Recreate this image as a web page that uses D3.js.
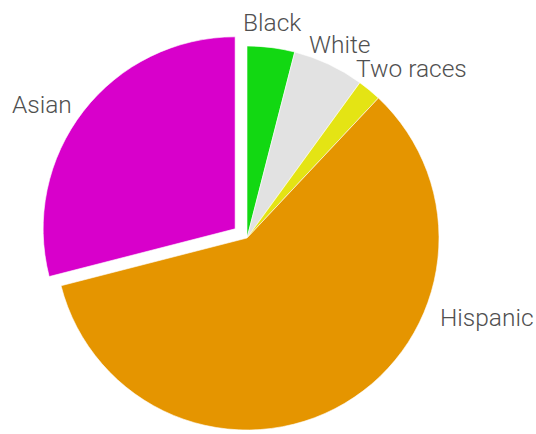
<!DOCTYPE html>
<html>
<head>
<meta charset="utf-8">
<script src="https://cdn.jsdelivr.net/npm/d3@7"></script>
<style>
  html, body { margin: 0; padding: 0; background: #fff; }
  svg { display: block; }
  text { font-family: Roboto, "Liberation Sans", Arial, sans-serif; font-weight: 300; fill: #505050; }
</style>
</head>
<body>
<svg id="chart" width="536" height="434"></svg>
<script>
const categories = ["Black", "White", "Two races", "Hispanic", "Asian"];
const values = [4, 6, 2, 59, 29];
const colors = ["#12d812", "#e2e2e2", "#e4e414", "#e59500", "#d800cb"];
const exploded = ["Asian"];

const cx = 247, cy = 238, R = 192, explodeDist = 15;

const svg = d3.select("#chart");
const data = categories.map((c, i) => ({ name: c, value: values[i] }));

const pie = d3.pie().sort(null).value(d => d.value);
const arc = d3.arc().innerRadius(0).outerRadius(R);
const color = d3.scaleOrdinal().domain(categories).range(colors);

const arcs = pie(data);
const g = svg.append("g").attr("transform", `translate(${cx},${cy})`);

g.selectAll("path")
  .data(arcs)
  .join("path")
  .attr("d", arc)
  .attr("fill", d => color(d.data.name))
  .attr("stroke", "#fff")
  .attr("stroke-width", 0.6)
  .attr("transform", d => {
    if (!exploded.includes(d.data.name)) return null;
    const a = (d.startAngle + d.endAngle) / 2;
    return `translate(${Math.sin(a) * explodeDist},${-Math.cos(a) * explodeDist})`;
  });

// label anchor points (page coordinates, text baseline start)
const labelAt = {
  "Black":     [243, 31],
  "White":     [309, 53],
  "Two races": [356, 77],
  "Hispanic":  [440, 326],
  "Asian":     [12, 113]
};

svg.selectAll("text.lbl")
  .data(arcs)
  .join("text")
  .attr("class", "lbl")
  .attr("font-size", 24.5)
  .attr("text-anchor", "start")
  .attr("x", d => labelAt[d.data.name][0])
  .attr("y", d => labelAt[d.data.name][1])
  .text(d => d.data.name);
</script>
</body>
</html>
